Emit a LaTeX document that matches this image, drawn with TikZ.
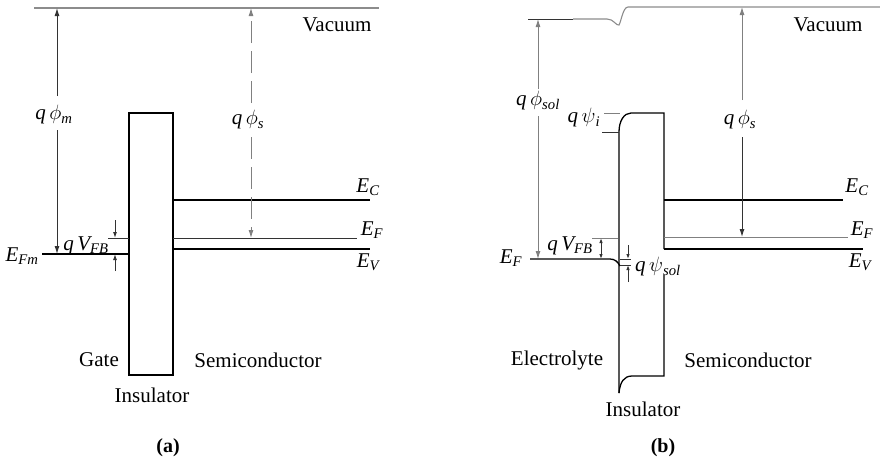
\documentclass[tikz,border=0pt]{standalone}
\usepackage{fontspec}
\setmainfont{Liberation Serif}
\usetikzlibrary{arrows.meta}
\newcommand\sbi[1]{\textsubscript{\itshape #1}}
\begin{document}
\begin{tikzpicture}[x=1pt,y=-1pt,
  band/.style={line width=1.3pt,black},
  thinband/.style={line width=1pt,black!80},
  vac/.style={line width=1.1pt,black!45},
  glead/.style={line width=0.9pt,black!50},
  tipdn/.style={-{Latex[length=8pt,width=5pt]}},
  smalltip/.style={-{Latex[length=6pt,width=4pt]}},
  dashlead/.style={line width=0.9pt,black!50,dash pattern=on 22pt off 8pt},
  lbl/.style={font=\fontsize{21}{24}\selectfont,inner sep=0pt},
  mlbl/.style={font=\fontsize{21}{24}\selectfont\itshape,inner sep=0pt},
  figcap/.style={font=\fontsize{20}{24}\selectfont\bfseries,inner sep=0pt}]
\useasboundingbox (0,0) rectangle (880,459);
%% ---------------- (a) ----------------
\coordinate (vA1) at (34,8); \coordinate (vA2) at (379,8);
\draw[vac] (vA1) -- (vA2);
\node[lbl] (vacA) at (337,25) {Vacuum};
% insulator
\node[draw,band,minimum width=44pt,minimum height=262pt,inner sep=0pt] (insA) at (151,244) {};
% gate Fermi level
\coordinate (efmL) at (42,254); \coordinate (efmR) at (129,254);
\draw[band] (efmL) -- (efmR);
\node[mlbl] (EFm) at (22,256) {E\sbi{Fm}};
% q phi_m
\coordinate (pmT) at (57,8); \coordinate (pmU) at (57,96);
\coordinate (pmL) at (57,130); \coordinate (pmB) at (57,254);
\node[mlbl] (qphim) at (54,115) {q\,$\phi$\sbi{m}};
\draw[thinband,tipdn] (pmU) -- (pmT);
\draw[thinband,tipdn] (pmL) -- (pmB);
% qVFB (a)
\coordinate (vfbL) at (108,238); \coordinate (vfbR) at (129,238);
\draw[thinband] (vfbL) -- (vfbR);
\coordinate (vfa1) at (115,220); \coordinate (vfa2) at (115,238);
\coordinate (vfa3) at (115,271); \coordinate (vfa4) at (115,254);
\draw[thinband,smalltip] (vfa1) -- (vfa2);
\draw[thinband,smalltip] (vfa3) -- (vfa4);
\node[mlbl] (qvfbA) at (86,246) {q\,V\sbi{FB}};
% semiconductor bands (a)
\coordinate (ecA1) at (173,200); \coordinate (ecA2) at (370,200);
\coordinate (efA1) at (173,238); \coordinate (efA2) at (357,238);
\coordinate (evA1) at (173,249); \coordinate (evA2) at (370,249);
\draw[band] (ecA1) -- (ecA2);
\draw[thinband] (efA1) -- (efA2);
\draw[band] (evA1) -- (evA2);
\node[mlbl] (ECa) at (368,187) {E\sbi{C}};
\node[mlbl] (EFa) at (372,230) {E\sbi{F}};
\node[mlbl] (EVa) at (368,262) {E\sbi{V}};
% q phi_s (a)
\coordinate (psT) at (251,8); \coordinate (psU) at (251,103);
\coordinate (psL) at (251,137); \coordinate (psB) at (251,238);
\node[mlbl] (qphisA) at (248,120) {q\,$\phi$\sbi{s}};
\draw[dashlead,tipdn] (psU) -- (psT);
\draw[dashlead,tipdn] (psL) -- (psB);
% texts (a)
\node[lbl] (gate) at (99,360) {Gate};
\node[lbl] (semiA) at (258,360) {Semiconductor};
\node[lbl] (insAl) at (152,395) {Insulator};
\node[figcap] (capA) at (168,448) {(a)};
%% ---------------- (b) ----------------
\coordinate (vB0) at (528,19); \coordinate (vB1) at (573,19);
\coordinate (vB2) at (607,19); \coordinate (vB3) at (628,7); \coordinate (vB4) at (880,7);
\draw[thinband] (vB0) -- (vB1);
\draw[vac] (vB1) -- (vB2) .. controls (614,19) and (616,26) .. (619,25)
   .. controls (621,22) and (623,7) .. (vB3) -- (vB4);
\node[lbl] (vacB) at (828,25) {Vacuum};
% q phi_sol
\coordinate (psolT) at (538,19); \coordinate (psolU) at (538,89);
\coordinate (psolL) at (538,116); \coordinate (psolB) at (538,259);
\node[mlbl] (qphisol) at (538,101) {q\,$\phi$\sbi{sol}};
\draw[glead,tipdn] (psolU) -- (psolT);
\draw[glead,tipdn] (psolL) -- (psolB);
% electrolyte Fermi level
\coordinate (efb1) at (530,259); \coordinate (efb2) at (610,259); \coordinate (efb3) at (620,266);
\draw[band] (efb1) -- (efb2) .. controls (615,259) and (618,262) .. (efb3);
\node[mlbl] (EFb) at (511,258) {E\sbi{F}};
% insulator (b)
\coordinate (ib1) at (619,393); \coordinate (ib2) at (619,132); \coordinate (ib3) at (631,113);
\coordinate (ib4) at (664,113); \coordinate (ib5) at (664,249); \coordinate (ib6) at (664,275);
\coordinate (ib7) at (664,376); \coordinate (ib8) at (632,376);
\draw[band] (ib1) -- (ib2) .. controls (619,121) and (624,113) .. (ib3) -- (ib4) -- (ib5);
\draw[band] (ib6) -- (ib7) -- (ib8) .. controls (624,376) and (620,382) .. (ib1);
% q psi_i
\coordinate (pi1) at (604,113); \coordinate (pi2) at (620,113);
\coordinate (pi3) at (602,132); \coordinate (pi4) at (619,132);
\draw[glead] (pi1) -- (pi2);
\draw[thinband] (pi3) -- (pi4);
\node[mlbl] (qpsii) at (584,118) {q\,$\psi$\sbi{i}};
% q psi_sol
\coordinate (ps1) at (620,259); \coordinate (ps2) at (631,259);
\coordinate (ps3) at (620,265); \coordinate (ps4) at (631,265);
\draw[thinband] (ps1) -- (ps2);
\draw[thinband] (ps3) -- (ps4);
\coordinate (psa1) at (628,245); \coordinate (psa2) at (628,259);
\coordinate (psa3) at (628,282); \coordinate (psa4) at (628,265);
\draw[thinband,-{Latex[length=5pt,width=3.5pt]}] (psa1) -- (psa2);
\draw[thinband,-{Latex[length=5pt,width=3.5pt]}] (psa3) -- (psa4);
\node[mlbl,anchor=west] (qpsisol) at (635,267) {q\,$\psi$\sbi{sol}};
% qVFB (b)
\coordinate (vfbB1) at (592,238); \coordinate (vfbB2) at (618,238);
\draw[glead] (vfbB1) -- (vfbB2);
\coordinate (vba1) at (601,238); \coordinate (vba2) at (601,259);
\draw[thinband,{Latex[length=5pt,width=3.5pt]}-{Latex[length=5pt,width=3.5pt]}] (vba1) -- (vba2);
\node[mlbl] (qvfbB) at (570,246) {q\,V\sbi{FB}};
% semiconductor bands (b)
\coordinate (ecB1) at (664,200); \coordinate (ecB2) at (843,200);
\coordinate (efB1) at (664,237); \coordinate (efB2) at (848,237);
\coordinate (evB1) at (664,249); \coordinate (evB2) at (863,249);
\draw[band] (ecB1) -- (ecB2);
\draw[glead] (efB1) -- (efB2);
\draw[band] (evB1) -- (evB2);
\node[mlbl] (ECb) at (857,187) {E\sbi{C}};
\node[mlbl] (EFb2) at (862,230) {E\sbi{F}};
\node[mlbl] (EVb) at (860,262) {E\sbi{V}};
% q phi_s (b)
\coordinate (pbT) at (742,7); \coordinate (pbU) at (742,100);
\coordinate (pbL) at (742,137); \coordinate (pbB) at (742,237);
\node[mlbl] (qphisB) at (740,120) {q\,$\phi$\sbi{s}};
\draw[glead,tipdn] (pbU) -- (pbT);
\draw[thinband,tipdn] (pbL) -- (pbB);
% texts (b)
\node[lbl] (electro) at (557,360) {Electrolyte};
\node[lbl] (semiB) at (748,360) {Semiconductor};
\node[lbl] (insBl) at (643,409) {Insulator};
\node[figcap] (capB) at (663,448) {(b)};
\end{tikzpicture}
\end{document}
